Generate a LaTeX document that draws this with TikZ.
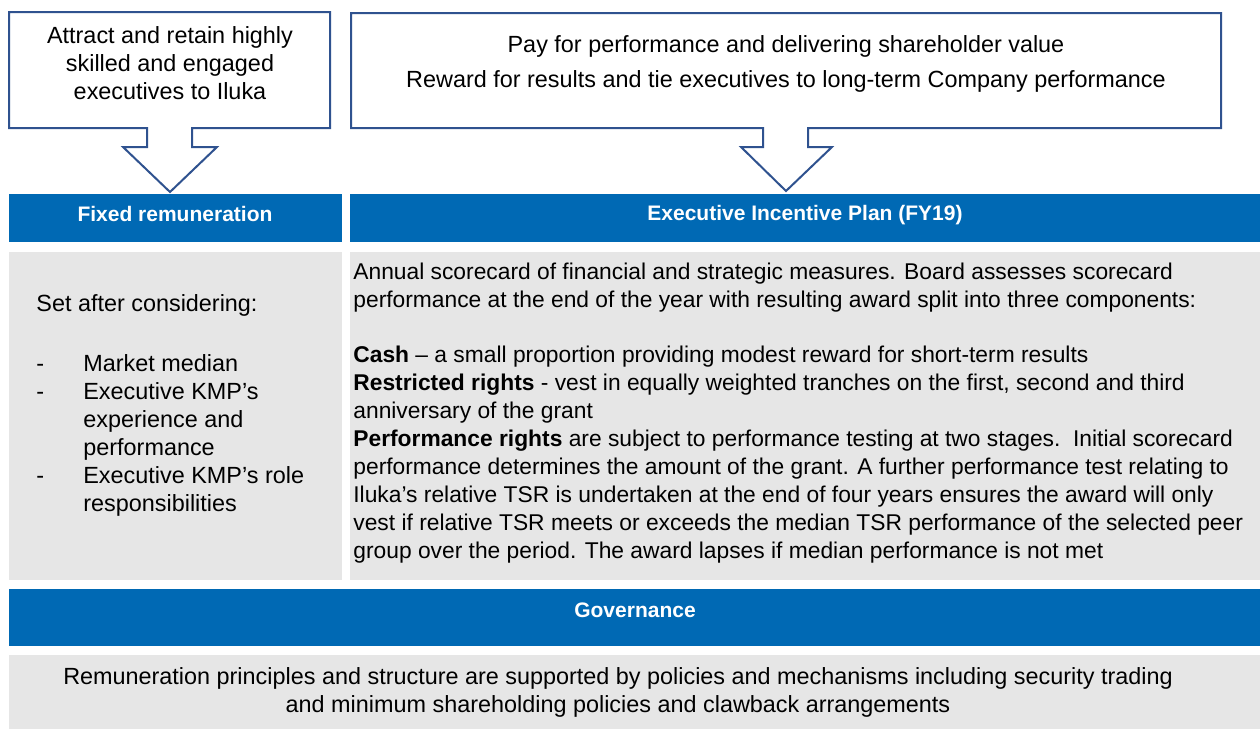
\documentclass[tikz,border=0pt]{standalone}
\usepackage{fontspec}
\setmainfont{Liberation Sans}
\definecolor{ilukablue}{RGB}{0,105,180}
\definecolor{panelgrey}{RGB}{230,230,230}
\definecolor{calloutline}{RGB}{47,82,143}
\tikzset{
  bodytext/.style={inner sep=0pt, font=\fontsize{11.7}{14}\selectfont},
  plantext/.style={inner sep=0pt, font=\fontsize{11.4}{14}\selectfont},
  headtext/.style={inner sep=0pt, text=white, font=\fontsize{10.5}{14}\selectfont\bfseries},
  callout/.style={draw=calloutline, line width=1pt, fill=white, line join=miter}
}
\begin{document}
\begin{tikzpicture}[x=0.5pt,y=-0.5pt]
  \useasboundingbox (0,0) rectangle (1260,729);
  % Callouts on top
  \draw[callout] (9,12) -- (330,12) -- (330,128) -- (192,128) -- (192,147) -- (217,147)
    -- (170,192) -- (123,147) -- (147,147) -- (147,128) -- (9,128) -- cycle;
  \draw[callout] (351,13) -- (1221,13) -- (1221,128) -- (808,128) -- (808,147) -- (832,147)
    -- (786,191) -- (741,147) -- (763,147) -- (763,128) -- (351,128) -- cycle;
  \node[bodytext,align=center] (attract) at (170,63) {Attract and retain highly\\skilled and engaged\\executives to Iluka};
  \node[bodytext,align=center,font=\fontsize{11.7}{17.5}\selectfont] (payfor) at (786,64) {Pay for performance and delivering shareholder value\\Reward for results and tie executives to long-term Company performance};
  % Headers and panels
  \fill[ilukablue] (9,194) rectangle (342,242);
  \fill[ilukablue] (350,194) rectangle (1260,242);
  \fill[panelgrey] (9,252) rectangle (342,580);
  \fill[panelgrey] (350,252) rectangle (1260,580);
  \fill[ilukablue] (9,589) rectangle (1260,646);
  \fill[panelgrey] (9,655) rectangle (1260,729);
  \node[headtext] (fixed) at (175,214) {Fixed remuneration};
  \node[headtext] (eip) at (805,215) {Executive Incentive Plan (FY19)};
  \node[headtext] (gov) at (635,610) {Governance};
  % Fixed remuneration
  \node[bodytext,anchor=west] (setafter) at (36,305) {Set after considering:};
  \node[bodytext,anchor=north west,align=left] (fixedlist) at (36,354) {\makebox[23.5pt][l]{-}Market median\\
    \makebox[23.5pt][l]{-}Executive KMP’s\\
    \makebox[23.5pt][l]{}experience and\\
    \makebox[23.5pt][l]{}performance\\
    \makebox[23.5pt][l]{-}Executive KMP’s role\\
    \makebox[23.5pt][l]{}responsibilities};
  % Executive Incentive Plan
  \node[plantext,anchor=north west,align=left] (scorecard) at (353,263) {Annual scorecard of financial and strategic measures. Board assesses scorecard\\
    performance at the end of the year with resulting award split into three components:};
  \node[plantext,anchor=north west,align=left] (components) at (353,346) {\textbf{Cash} – a small proportion providing modest reward for short-term results\\
    \textbf{Restricted rights} - vest in equally weighted tranches on the first, second and third\\
    anniversary of the grant\\
    \textbf{Performance rights} are subject to performance testing at two stages.\ \ Initial scorecard\\
    performance determines the amount of the grant. A further performance test relating to\\
    Iluka’s relative TSR is undertaken at the end of four years ensures the award will only\\
    vest if relative TSR meets or exceeds the median TSR performance of the selected peer\\
    group over the period. The award lapses if median performance is not met};
  % Governance
  \node[bodytext,align=center] (policies) at (618,692) {Remuneration principles and structure are supported by policies and mechanisms including security trading\\and minimum shareholding policies and clawback arrangements};
\end{tikzpicture}
\end{document}
